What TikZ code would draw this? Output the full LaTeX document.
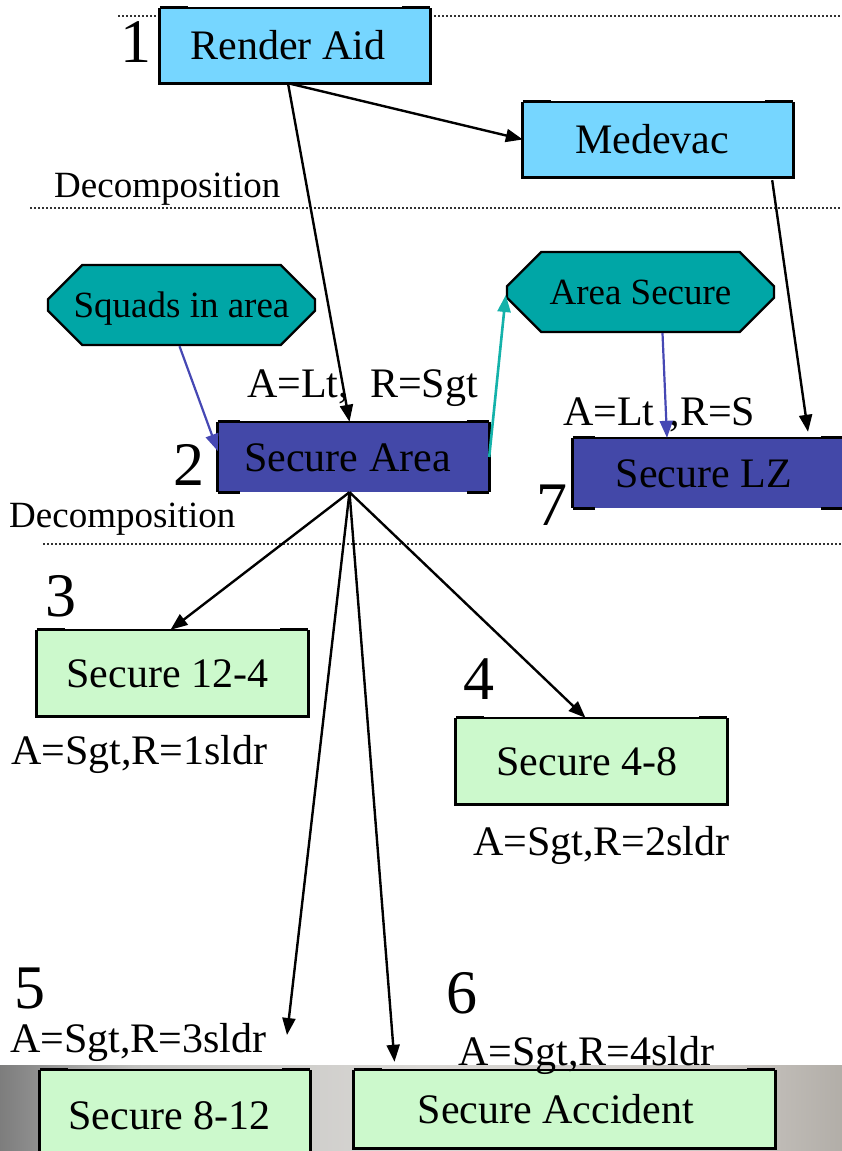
\documentclass[tikz,border=0pt]{standalone}
\usepackage{fontspec}
\setmainfont{Liberation Serif}
\usetikzlibrary{arrows.meta,shapes.misc,calc}

\definecolor{skyfill}{RGB}{118,214,255}
\definecolor{tealfill}{RGB}{0,166,166}
\definecolor{navyfill}{RGB}{67,72,168}
\definecolor{mintfill}{RGB}{204,249,204}
\definecolor{blueline}{RGB}{70,72,180}
\definecolor{tealline}{RGB}{20,178,170}
\definecolor{dotgray}{RGB}{50,50,50}
\definecolor{bandA}{RGB}{125,125,125}
\definecolor{bandB}{RGB}{192,192,190}
\definecolor{bandC}{RGB}{218,216,213}
\definecolor{bandD}{RGB}{202,198,194}
\definecolor{bandE}{RGB}{178,174,168}

\pgfdeclarehorizontalshading{bandshade}{100bp}{%
  color(0bp)=(bandA); color(25bp)=(bandA); color(33bp)=(bandB);
  color(50bp)=(bandC); color(68bp)=(bandD); color(75bp)=(bandE);
  color(100bp)=(bandE)}

\begin{document}
\begin{tikzpicture}[x=1pt,y=-1pt,
  boxfont/.style={font=\fontsize{42}{48}\selectfont, text height=28pt, text depth=0pt},
  taskbox/.style={boxfont, rectangle, inner sep=0pt, minimum width=270pt},
  lightbox/.style={taskbox, fill=#1},
  goalbox/.style={chamfered rectangle, chamfered rectangle xsep=22pt,
    chamfered rectangle ysep=22pt, fill=tealfill, draw=black, line width=2.4pt,
    inner sep=0pt, minimum width=267pt, minimum height=80pt,
    font=\fontsize{37}{42}\selectfont, text height=24.5pt, text depth=0pt},
  lab/.style={font=\fontsize{42}{48}\selectfont, inner sep=0pt, anchor=base west},
  decolab/.style={font=\fontsize{37}{42}\selectfont, inner sep=0pt, anchor=base west},
  num/.style={font=\fontsize{62}{70}\selectfont, inner sep=0pt, anchor=base},
  dotline/.style={draw=dotgray, line width=2pt, dash pattern=on 2pt off 2pt},
  tip/.style={-{Triangle[length=17pt,width=13pt]}},
  conn/.style={draw=black, line width=2.4pt, tip},
  bconn/.style={draw=blueline, line width=2.2pt, tip},
  tconn/.style={draw=tealline, line width=2.6pt, tip},
  edge/.style={draw=black, line width=3pt},
  thinedge/.style={draw=black, line width=1.6pt}]

\useasboundingbox (0,0) rectangle (842,1151);
\fill[white] (0,0) rectangle (842,1151);

% grey band along the bottom
\shade[shading=bandshade] (0,1065) rectangle (842,1151);

% level separators
\draw[dotline] (118,16) -- (842,16);
\draw[dotline] (30,208) -- (842,208);
\draw[dotline] (43,544) -- (842,544);

% task boxes
\node[lightbox=skyfill, minimum height=75pt] (ra) at (295,45.5) {Render Aid\hspace*{14pt}};
\node[lightbox=skyfill, minimum height=75pt] (md) at (658,139.5) {Medevac\hspace*{12pt}};
\node[lightbox=navyfill, minimum width=271pt, minimum height=70pt] (sa) at (353.5,457) {Secure Area\hspace*{12pt}};
\node[lightbox=navyfill, minimum height=70pt] (lz) at (708,473) {Secure LZ\hspace*{8pt}};
\node[lightbox=mintfill, minimum width=271pt, minimum height=86pt] (s124) at (172.5,673) {Secure 12-4\hspace*{10pt}};
\node[lightbox=mintfill, minimum width=271pt, minimum height=86pt] (s48) at (591.5,761) {Secure 4-8\hspace*{9pt}};
\node[lightbox=mintfill, minimum height=90pt] (s812) at (175,1115) {Secure 8-12\hspace*{11pt}};
\node[lightbox=mintfill, minimum width=421pt, minimum height=78pt] (sacc) at (564.5,1109) {Secure Accident\hspace*{17pt}};

% outlines of the light boxes
\foreach \n in {ra,md,s124,s48,s812,sacc}{
  \draw[edge] (\n.north west) -- (\n.south west) -- (\n.south east) -- (\n.north east);
  \draw[thinedge] (\n.north west) -- (\n.north east);
  \draw[edge] (\n.north west) -- ++(28,0);
  \draw[edge] (\n.north east) -- ++(-28,0);
}
% outlines of the dark boxes
\foreach \n in {sa,lz}{
  \draw[edge] (\n.north west) -- (\n.south west);
  \draw[edge] (\n.north east) -- (\n.south east);
  \draw[thinedge] (\n.north west) -- (\n.north east);
  \draw[edge] (\n.north west) -- ++(22,0);
  \draw[edge] (\n.north east) -- ++(-22,0);
  \draw[edge] (\n.south west) -- ++(22,0);
  \draw[edge] (\n.south east) -- ++(-22,0);
}

% goal octagons
\node[goalbox] (sq) at (181.5,305) {Squads in area};
\node[goalbox] (as) at (640.5,292) {Area Secure};

% step numbers
\node[num] (n1) at (136,62) {1};
\node[num] (n2) at (189,485) {2};
\node[num] (n3) at (60.5,616) {3};
\node[num] (n4) at (479,699) {4};
\node[num] (n5) at (29.5,1008) {5};
\node[num] (n6) at (461.5,1013) {6};
\node[num] (n7) at (552,525) {7};

% labels
\node[decolab] (dec1) at (54,197) {Decomposition};
\node[decolab] (dec2) at (9,527) {Decomposition};
\node[lab] (auth2) at (247,397) {A=Lt,\ \ R=Sgt};
\node[lab] (auth7) at (563,425) {A=Lt\hspace{15pt},R=S};
\node[lab] (auth3) at (11,764) {A=Sgt,R=1sldr};
\node[lab] (auth4) at (473,855) {A=Sgt,R=2sldr};
\node[lab] (auth5) at (10,1052) {A=Sgt,R=3sldr};
\node[lab] (auth6) at (458,1065) {A=Sgt,R=4sldr};

% connectors
\coordinate (end5) at (287,1035);
\draw[conn] ([xshift=-7pt]ra.south) -- ([xshift=-4pt]sa.north);
\draw[conn] ([xshift=-7pt]ra.south) -- (md.west);
\draw[conn] ([xshift=-21pt,yshift=-3pt]md.south east) -- ([xshift=100pt,yshift=6pt]lz.north);
\draw[bconn] ([xshift=-2pt]sq.south) -- ([yshift=6pt]sa.west);
\draw[tconn] (sa.east) -- ([yshift=-3pt]as.west);
\draw[bconn] ([xshift=22pt]as.south) -- ([xshift=-41pt]lz.north);
\draw[conn] ([xshift=-4pt]sa.south) -- ([xshift=-2pt]s124.north);
\draw[conn] ([xshift=-4pt]sa.south) -- ([xshift=-6pt]s48.north);
\draw[conn] ([xshift=-4pt]sa.south) -- (end5);
\draw[conn] ([xshift=-4pt]sa.south) -- ([xshift=-170pt,yshift=8pt]sacc.north);

\end{tikzpicture}
\end{document}
